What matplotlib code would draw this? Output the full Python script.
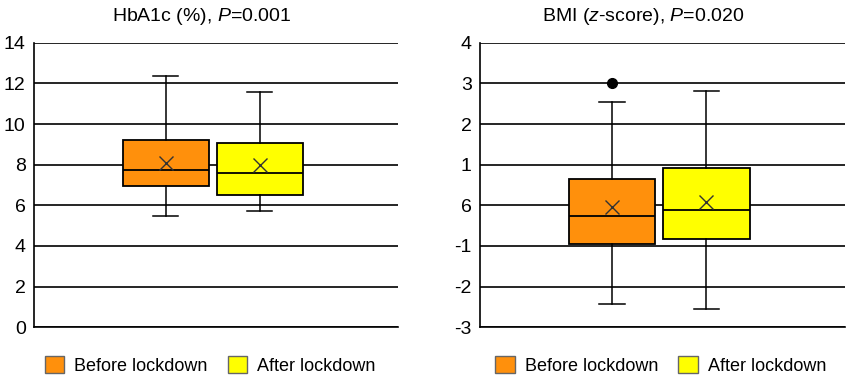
import matplotlib
matplotlib.use("Agg")
import matplotlib.pyplot as plt
from matplotlib.patches import Patch

plt.rcParams['font.family'] = ['Liberation Sans', 'DejaVu Sans']
plt.rcParams['mathtext.fontset'] = 'custom'
plt.rcParams['mathtext.it'] = 'Liberation Sans:italic'
plt.rcParams['mathtext.rm'] = 'Liberation Sans'

groups = ["Before lockdown", "After lockdown"]
colors = ["#FF900C", "#FFFF00"]

# HbA1c (%)
hba_low = [5.48, 5.71]
hba_q1 = [6.94, 6.49]
hba_med = [7.72, 7.61]
hba_q3 = [9.20, 9.05]
hba_high = [12.36, 11.56]
hba_mean = [8.10, 7.97]
hba_out = [[], []]
hba_ticks = [0, 2, 4, 6, 8, 10, 12, 14]
hba_labels = ["0", "2", "4", "6", "8", "10", "12", "14"]

# BMI z-score
bmi_low = [-2.43, -2.56]
bmi_q1 = [-0.95, -0.84]
bmi_med = [-0.27, -0.12]
bmi_q3 = [0.64, 0.91]
bmi_high = [2.53, 2.80]
bmi_mean = [-0.03, 0.09]
bmi_out = [[3.0], []]
bmi_ticks = [-3, -2, -1, 0, 1, 2, 3, 4]
bmi_labels = ["-3", "-2", "-1", "6", "1", "2", "3", "4"]


def panel(ax, low, q1, med, q3, high, mean, out, ticks, labels, title, tx):
    stats = []
    for i in range(2):
        stats.append(dict(whislo=low[i], q1=q1[i], med=med[i], q3=q3[i],
                          whishi=high[i], mean=mean[i], fliers=out[i]))
    ax.set_yticks(ticks)
    ax.set_yticklabels(labels)
    ax.set_ylim(ticks[0], ticks[-1])
    ax.set_xlim(-0.4, 3.47)
    ax.grid(axis='y', color='black', lw=1.2, zorder=0)
    ax.set_axisbelow(True)
    bp = ax.bxp(stats, positions=[1, 2], widths=0.915, patch_artist=True,
                showmeans=True, capwidths=0.27,
                boxprops=dict(lw=1.3, edgecolor='black'),
                medianprops=dict(color='black', lw=1.3),
                whiskerprops=dict(color='black', lw=1.1),
                capprops=dict(color='black', lw=1.1),
                meanprops=dict(marker='x', markersize=10, markeredgewidth=1.0,
                               markeredgecolor='#333333'),
                flierprops=dict(marker='o', markersize=7, markerfacecolor='black',
                                markeredgecolor='black'))
    for box, c in zip(bp['boxes'], colors):
        box.set_facecolor(c)
    ax.set_xticks([])
    for s in ['top', 'right']:
        ax.spines[s].set_visible(False)
    for s in ['left', 'bottom']:
        ax.spines[s].set_linewidth(1.2)
    ax.tick_params(axis='y', length=0, pad=6, labelsize=14)
    ax.text(tx, 1.077, title, transform=ax.transAxes, ha='center', va='baseline',
            fontsize=14)
    handles = [Patch(facecolor=c, edgecolor='#666666', lw=1) for c in colors]
    return handles


fig = plt.figure(figsize=(8.52, 3.82), dpi=100)
ax1 = fig.add_axes([0.0399, 0.1432, 0.4272, 0.745])
ax2 = fig.add_axes([0.5634, 0.1432, 0.4284, 0.745])

h = panel(ax1, hba_low, hba_q1, hba_med, hba_q3, hba_high, hba_mean, hba_out,
          hba_ticks, hba_labels, r"HbA1c (%), $\mathit{P}$=0.001", 0.461)
ax1.legend(h, groups, loc='center', bbox_to_anchor=(0.484, -0.133), ncol=2,
           frameon=False, fontsize=13, handlelength=1.1, handleheight=1.1,
           handletextpad=0.55, columnspacing=1.1)

h = panel(ax2, bmi_low, bmi_q1, bmi_med, bmi_q3, bmi_high, bmi_mean, bmi_out,
          bmi_ticks, bmi_labels, r"BMI ($\mathit{z}$-score), $\mathit{P}$=0.020", 0.448)
ax2.legend(h, groups, loc='center', bbox_to_anchor=(0.496, -0.133), ncol=2,
           frameon=False, fontsize=13, handlelength=1.1, handleheight=1.1,
           handletextpad=0.55, columnspacing=1.1)

fig.savefig("out.png", dpi=100)
